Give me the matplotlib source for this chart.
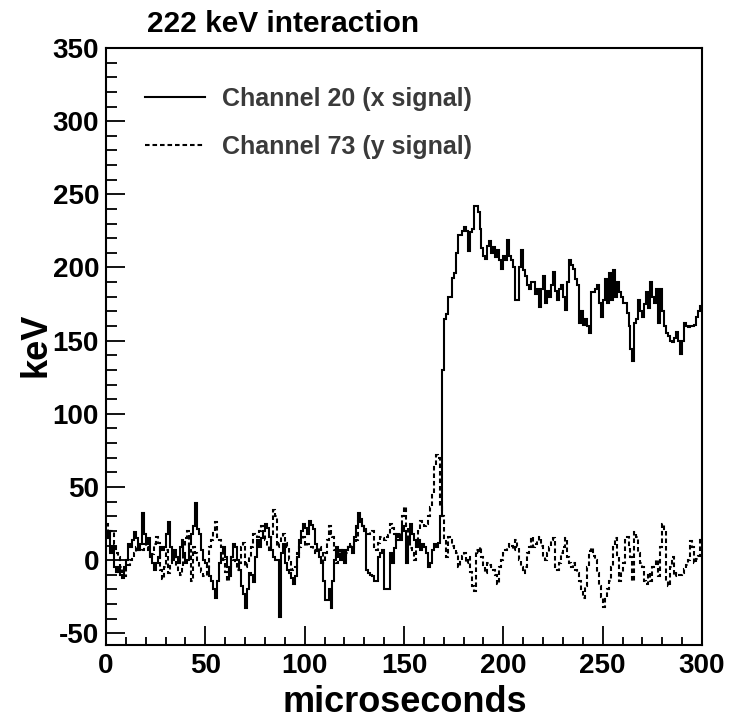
import numpy as np
import matplotlib
matplotlib.use('Agg')
import matplotlib.pyplot as plt
from matplotlib.lines import Line2D
from matplotlib.ticker import MultipleLocator

plt.rcParams['font.family'] = ['Liberation Sans', 'DejaVu Sans']
plt.rcParams['axes.unicode_minus'] = False

# --- data: one value per 1 microsecond bin (0..300) ---
edges = np.arange(0, 301)

x_signal = [
    15, 20, 5, 10, -5, -8, -5, -10, -12, -5,
    0, 11, 9, 14, 19, 15, 7, 11, 32, 18,
    11, 15, 2, -2, -7, -2, 2, 9, 7, 9,
    18, 26, 9, 0, 7, 2, -2, 9, 14, 5,
    -2, 0, 11, 18, 23, 39, 21, 18, 7, 0,
    -2, -5, -11, -14, -20, -26, -14, -2, 5, 9,
    2, -5, -11, 2, 11, 9, 0, -7, -18, -23,
    -33, -20, -9, -10, -15, 2, 14, 9, 15, 20,
    25, 22, 16, 7, 2, 0, 0, -39, 5, 11,
    -2, -7, -9, -12, -16, -11, 2, 14, 20, 25,
    22, 18, 27, 24, 21, 11, 6, 2, -2, -14,
    -27, -27, -20, -33, -14, 0, 9, 4, 0, 7,
    -2, 7, 9, 9, 5, 16, 23, 32, 28, 23,
    21, -7, -9, -10, -11, -14, -14, 2, 5, 7,
    -20, -20, -20, 5, -2, 8, 18, 16, 14, 23,
    20, -2, 14, 25, 18, 14, 9, 14, 7, 11,
    9, 5, -5, -2, 7, 11, 9, 12, 30, 130,
    165, 168, 180, 180, 193, 196, 210, 222, 222, 225,
    228, 225, 211, 224, 226, 242, 242, 238, 226, 213,
    208, 206, 215, 218, 210, 214, 207, 212, 205, 199,
    208, 205, 219, 208, 205, 200, 178, 178, 200, 212,
    198, 194, 188, 185, 190, 190, 182, 185, 173, 185,
    194, 176, 184, 180, 188, 197, 184, 178, 185, 188,
    180, 171, 190, 205, 202, 199, 192, 188, 162, 170,
    161, 165, 160, 155, 183, 183, 185, 188, 176, 166,
    178, 192, 176, 196, 178, 198, 180, 190, 183, 180,
    176, 176, 169, 160, 144, 136, 162, 165, 178, 170,
    166, 175, 183, 172, 190, 180, 176, 185, 162, 185,
    170, 160, 155, 153, 150, 149, 152, 156, 150, 141,
    150, 162, 160, 159, 160, 160, 161, 166, 170, 174,
]

y_signal = [
    25, 18, 20, 20, 11, 5, 2, -5, -8, -11,
    -5, -3, 0, 2, 5, 9, 7, 6, 7, 11,
    9, 7, 2, 4, 11, 16, 12, -7, -13, -5,
    7, -9, -2, 0, 2, -4, -8, -10, -5, 9,
    15, 20, 7, -14, 9, 5, -2, -5, -8, -11,
    -11, -5, 9, 14, 20, 26, 16, 14, 9, 0,
    -8, -14, -7, 2, 0, -2, -7, -2, 9, 12,
    -5, -2, 2, 9, 18, 17, 16, 20, 23, 18,
    14, 10, 7, 16, 34, 30, 9, 12, 16, 18,
    12, 9, 0, -7, -6, -5, 5, 9, 14, 16,
    10, 11, 10, 9, 7, 5, 7, 9, 7, -2,
    5, 14, 23, 18, 16, 7, -2, 3, 7, 0,
    2, 5, 11, 10, 9, 12, 14, 27, 25, 23,
    20, 18, 18, 19, 20, 9, 7, 12, 16, 15,
    14, 16, 17, 25, 22, 18, 14, 16, 18, 30,
    36, 23, 14, 8, 5, 0, 14, 20, 27, 25,
    23, 25, 30, 36, 46, 65, 72, 70, 36, 30,
    14, 2, 16, 14, 10, 7, 5, -5, 0, 3,
    5, -2, 2, -8, -18, -21, 7, 5, 9, 2,
    -5, -9, -2, -3, -5, -7, -10, -16, -5, 0,
    5, 7, 9, 11, 10, 7, 14, 9, 0, -5,
    -9, -5, 5, 9, 16, 9, 11, 13, 16, 10,
    2, 0, 5, 9, 14, 15, -5, -7, -2, 5,
    9, 15, 2, -2, -5, -2, -7, -9, -14, -20,
    -26, -18, -5, 6, 8, 3, 0, -9, -18, -25,
    -32, -25, -20, -14, -5, 9, 15, 2, -14, -8,
    -2, 14, 16, 9, 2, -14, 19, 16, 5, -2,
    -5, -14, -16, -9, -14, -5, -3, 0, -11, 9,
    25, 20, -14, -18, -5, 2, -11, -9, -10, -10,
    -9, -6, -3, 0, 13, 9, -2, 1, 3, 15,
]

labels = ['Channel 20 (x signal)', 'Channel 73 (y signal)']

fig = plt.figure(figsize=(7.45, 7.21), dpi=100)
ax = fig.add_axes([0.1423, 0.1054, 0.8, 0.828])

dotted = (0, (2.2, 1.4))
ax.stairs(y_signal, edges, baseline=None, color='black', lw=1.5, linestyle=dotted)
ax.stairs(x_signal, edges, baseline=None, color='black', lw=1.5)

ax.set_xlim(0, 300)
ax.set_ylim(-58, 350)

# ROOT-like frame and ticks
for s in ax.spines.values():
    s.set_linewidth(1.5)
ax.xaxis.set_major_locator(MultipleLocator(50))
ax.xaxis.set_minor_locator(MultipleLocator(10))
ax.yaxis.set_major_locator(MultipleLocator(50))
ax.yaxis.set_minor_locator(MultipleLocator(10))
ax.tick_params(axis='both', which='both', direction='in', top=False, right=False, width=1.3)
ax.tick_params(axis='x', which='major', length=14, pad=6)
ax.tick_params(axis='x', which='minor', length=6)
ax.tick_params(axis='y', which='major', length=14, pad=5)
ax.tick_params(axis='y', which='minor', length=8)
for lab in ax.get_xticklabels() + ax.get_yticklabels():
    lab.set_fontsize(20)
    lab.set_fontweight('bold')

fig.text(404.5 / 745, 9 / 721, 'microseconds', fontsize=26, fontweight='bold',
         ha='center', va='baseline')
ax.set_ylabel('keV', fontsize=26, fontweight='bold')
ax.yaxis.set_label_coords(-0.088, 0.503)

fig.text(147 / 745, 1 - 32 / 721, '222 keV interaction', fontsize=21.5, fontweight='bold',
         ha='left', va='baseline')

handles = [Line2D([], [], color='black', lw=1.5),
           Line2D([], [], color='black', lw=1.5, linestyle=dotted)]
leg = ax.legend(handles, labels, loc='upper left', bbox_to_anchor=(0.065, 0.935),
                frameon=False, handlelength=2.4, handletextpad=0.7,
                labelspacing=0.95, borderaxespad=0, borderpad=0,
                prop={'size': 18, 'weight': 'bold'})
for t in leg.get_texts():
    t.set_color('#3a3a3a')

fig.savefig('out.png', dpi=100)
